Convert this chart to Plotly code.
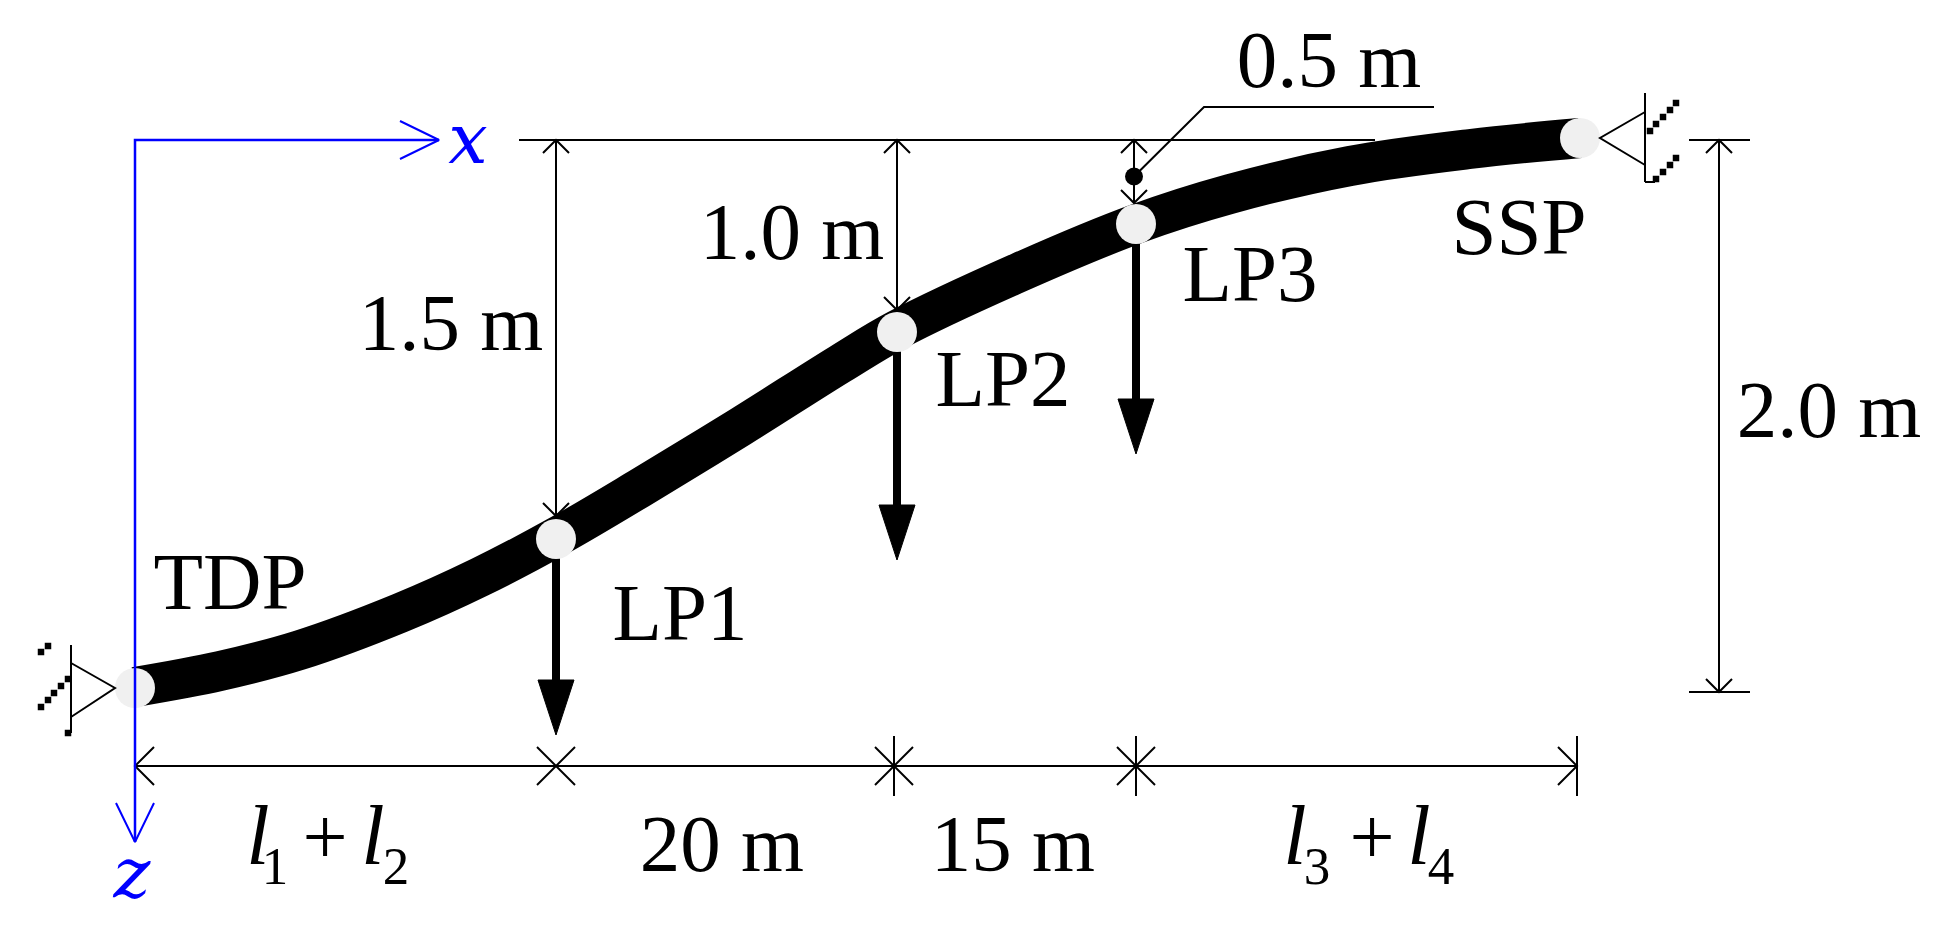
import plotly.graph_objects as go

# the drawing is a schematic, so everything is kept in picture units (x to the right, z downwards)
cable_x = [135, 220, 300, 400, 480, 560, 640, 740, 840, 897, 1020, 1136, 1230, 1350, 1470, 1580]
cable_z = [687, 671, 650, 613, 577, 535, 488, 427, 364, 330, 272, 224, 194, 166, 149, 138]

node_x = [135, 556, 897, 1136, 1580]
node_z = [688, 539, 332, 224, 138]

load_x = [556, 897, 1136]
load_top = [539, 332, 224]
load_tip = [735, 560, 454]

datum_z = 140
bottom_z = 692
dim_z = 766
span_x = [135, 556, 894, 1136, 1577]
depth_x = [556, 897, 1134]
depth_tip = [516, 310, 203]
right_dim_x = 1719

labels = ["1.5 m", "1.0 m", "0.5 m", "2.0 m", "20 m", "15 m", "TDP", "LP1", "LP2", "LP3", "SSP"]
label_x = [451, 792, 1329, 1829, 722, 1013, 230, 680, 1003, 1250, 1519]
label_y = [330, 239, 67, 417, 851, 851, 589, 620, 386, 281, 234]

ell_x = [258, 373, 1295, 1419]
ell_y = [843, 843, 843, 843]
sub_labels = ["1", "2", "3", "4"]
sub_x = [275, 396, 1317, 1441]
sub_y = [871, 871, 871, 871]
plus_x = [325, 1372]
plus_y = [844, 844]

axis_labels = ["x", "z"]
axis_x = [468, 132]
axis_y = [145, 879]

hatch_x = [41, 48, 41, 48, 54, 61, 68, 68, 1650, 1656, 1663, 1670, 1676, 1656, 1663, 1670, 1676]
hatch_z = [652, 646, 707, 700, 693, 686, 679, 733, 131, 124, 117, 110, 103, 179, 172, 165, 158]

FONT = "Liberation Serif"
BLACK = "#000000"
BLUE = "#0000ff"
GREY = "#f0f0f0"

fig = go.Figure()


def line(xs, ys, color=BLACK, width=2, **kwargs):
    fig.add_trace(go.Scatter(x=xs, y=ys, mode="lines", line=dict(color=color, width=width, **kwargs),
                             hoverinfo="skip", showlegend=False))


def open_head(x, y, dx, dy, size=13, spread=None, color=BLACK, width=2):
    # two barbs going back from the tip, (dx, dy) points along the arrow
    spread = spread or size
    a = (x - dx*size - dy*spread, y - dy*size - dx*spread)
    b = (x - dx*size + dy*spread, y - dy*size + dx*spread)
    line([a[0], x, b[0]], [a[1], y, b[1]], color, width)


def cross(x, y, size=19):
    line([x-size, x+size, None, x-size, x+size], [y-size, y+size, None, y+size, y-size])


def text(items, xs, ys, color=BLACK, size=81, family=FONT, **kwargs):
    fig.add_trace(go.Scatter(x=xs, y=ys, mode="text", text=items, textposition="middle center",
                             textfont=dict(family=family, size=size, color=color, **kwargs),
                             hoverinfo="skip", showlegend=False))


# cable with the loads underneath
line(cable_x, cable_z, width=40, shape="spline", smoothing=1.0)
for x, top, tip in zip(load_x, load_top, load_tip):
    line([x, x], [top, tip-50], width=8)
    fig.add_trace(go.Scatter(x=[x-18, x+18, x, x-18], y=[tip-55, tip-55, tip, tip-55], mode="lines",
                             fill="toself", fillcolor=BLACK, line=dict(color=BLACK, width=1),
                             hoverinfo="skip", showlegend=False))

fig.add_trace(go.Scatter(x=node_x, y=node_z, mode="markers", marker=dict(color=GREY, size=40, line_width=0),
                         hoverinfo="skip", showlegend=False))

# depth dimensions from the datum line
line([519, 1375], [datum_z, datum_z])
for x, tip in zip(depth_x, depth_tip):
    line([x, x], [datum_z, tip])
    open_head(x, datum_z, 0, -1)
    open_head(x, tip, 0, 1)

# 0.5 m leader
fig.add_trace(go.Scatter(x=[1134], y=[176.5], mode="markers", marker=dict(color=BLACK, size=18, line_width=0),
                         hoverinfo="skip", showlegend=False))
line([1134, 1204, 1434], [176.5, 107, 107])

# 2.0 m dimension
line([1689, 1750], [datum_z, datum_z])
line([1689, 1750], [bottom_z, bottom_z])
line([right_dim_x, right_dim_x], [datum_z, bottom_z])
open_head(right_dim_x, datum_z, 0, -1)
open_head(right_dim_x, bottom_z, 0, 1)

# span dimensions along the bottom
line([span_x[0], span_x[-1]], [dim_z, dim_z])
open_head(span_x[0], dim_z, -1, 0, size=19)
open_head(span_x[-1], dim_z, 1, 0, size=19)
line([span_x[-1], span_x[-1]], [736, 796])
cross(span_x[1], dim_z)
for x in span_x[2:4]:
    cross(x, dim_z)
    line([x, x], [736, 796])

# supports
line([71, 71, None, 71, 115, 71], [645, 733, None, 663, 688, 717])
line([1645, 1645, None, 1645, 1600, 1645, None, 1645, 1655], [93, 182, None, 112, 138, 165, None, 182, 182])
fig.add_trace(go.Scatter(x=hatch_x, y=hatch_z, mode="markers",
                         marker=dict(symbol="square", color=BLACK, size=6.5, line_width=0),
                         hoverinfo="skip", showlegend=False))

# blue axes on top of the TDP node
line([439, span_x[0], span_x[0]], [datum_z, datum_z, 842], BLUE, 2.5)
open_head(439, datum_z, 1, 0, size=39, spread=19, color=BLUE)
open_head(span_x[0], 842, 0, 1, size=39, spread=19, color=BLUE)

text(labels, label_x, label_y)
text(["l"]*4, ell_x, ell_y, size=84, style="italic")
text(sub_labels, sub_x, sub_y, size=53)
text(["+"]*2, plus_x, plus_y, size=80)
text(axis_labels, axis_x, axis_y, BLUE, size=70, family="DejaVu Serif", style="italic")

fig.update_xaxes(range=[0, 1959], visible=False, fixedrange=True)
fig.update_yaxes(range=[935, 0], visible=False, fixedrange=True)
fig.update_layout(width=1959, height=935, margin=dict(l=0, r=0, t=0, b=0), paper_bgcolor="white",
                  plot_bgcolor="white", showlegend=False)

fig.write_html("out.html", config=dict(displayModeBar=False), post_script="document.body.style.margin='0';")
